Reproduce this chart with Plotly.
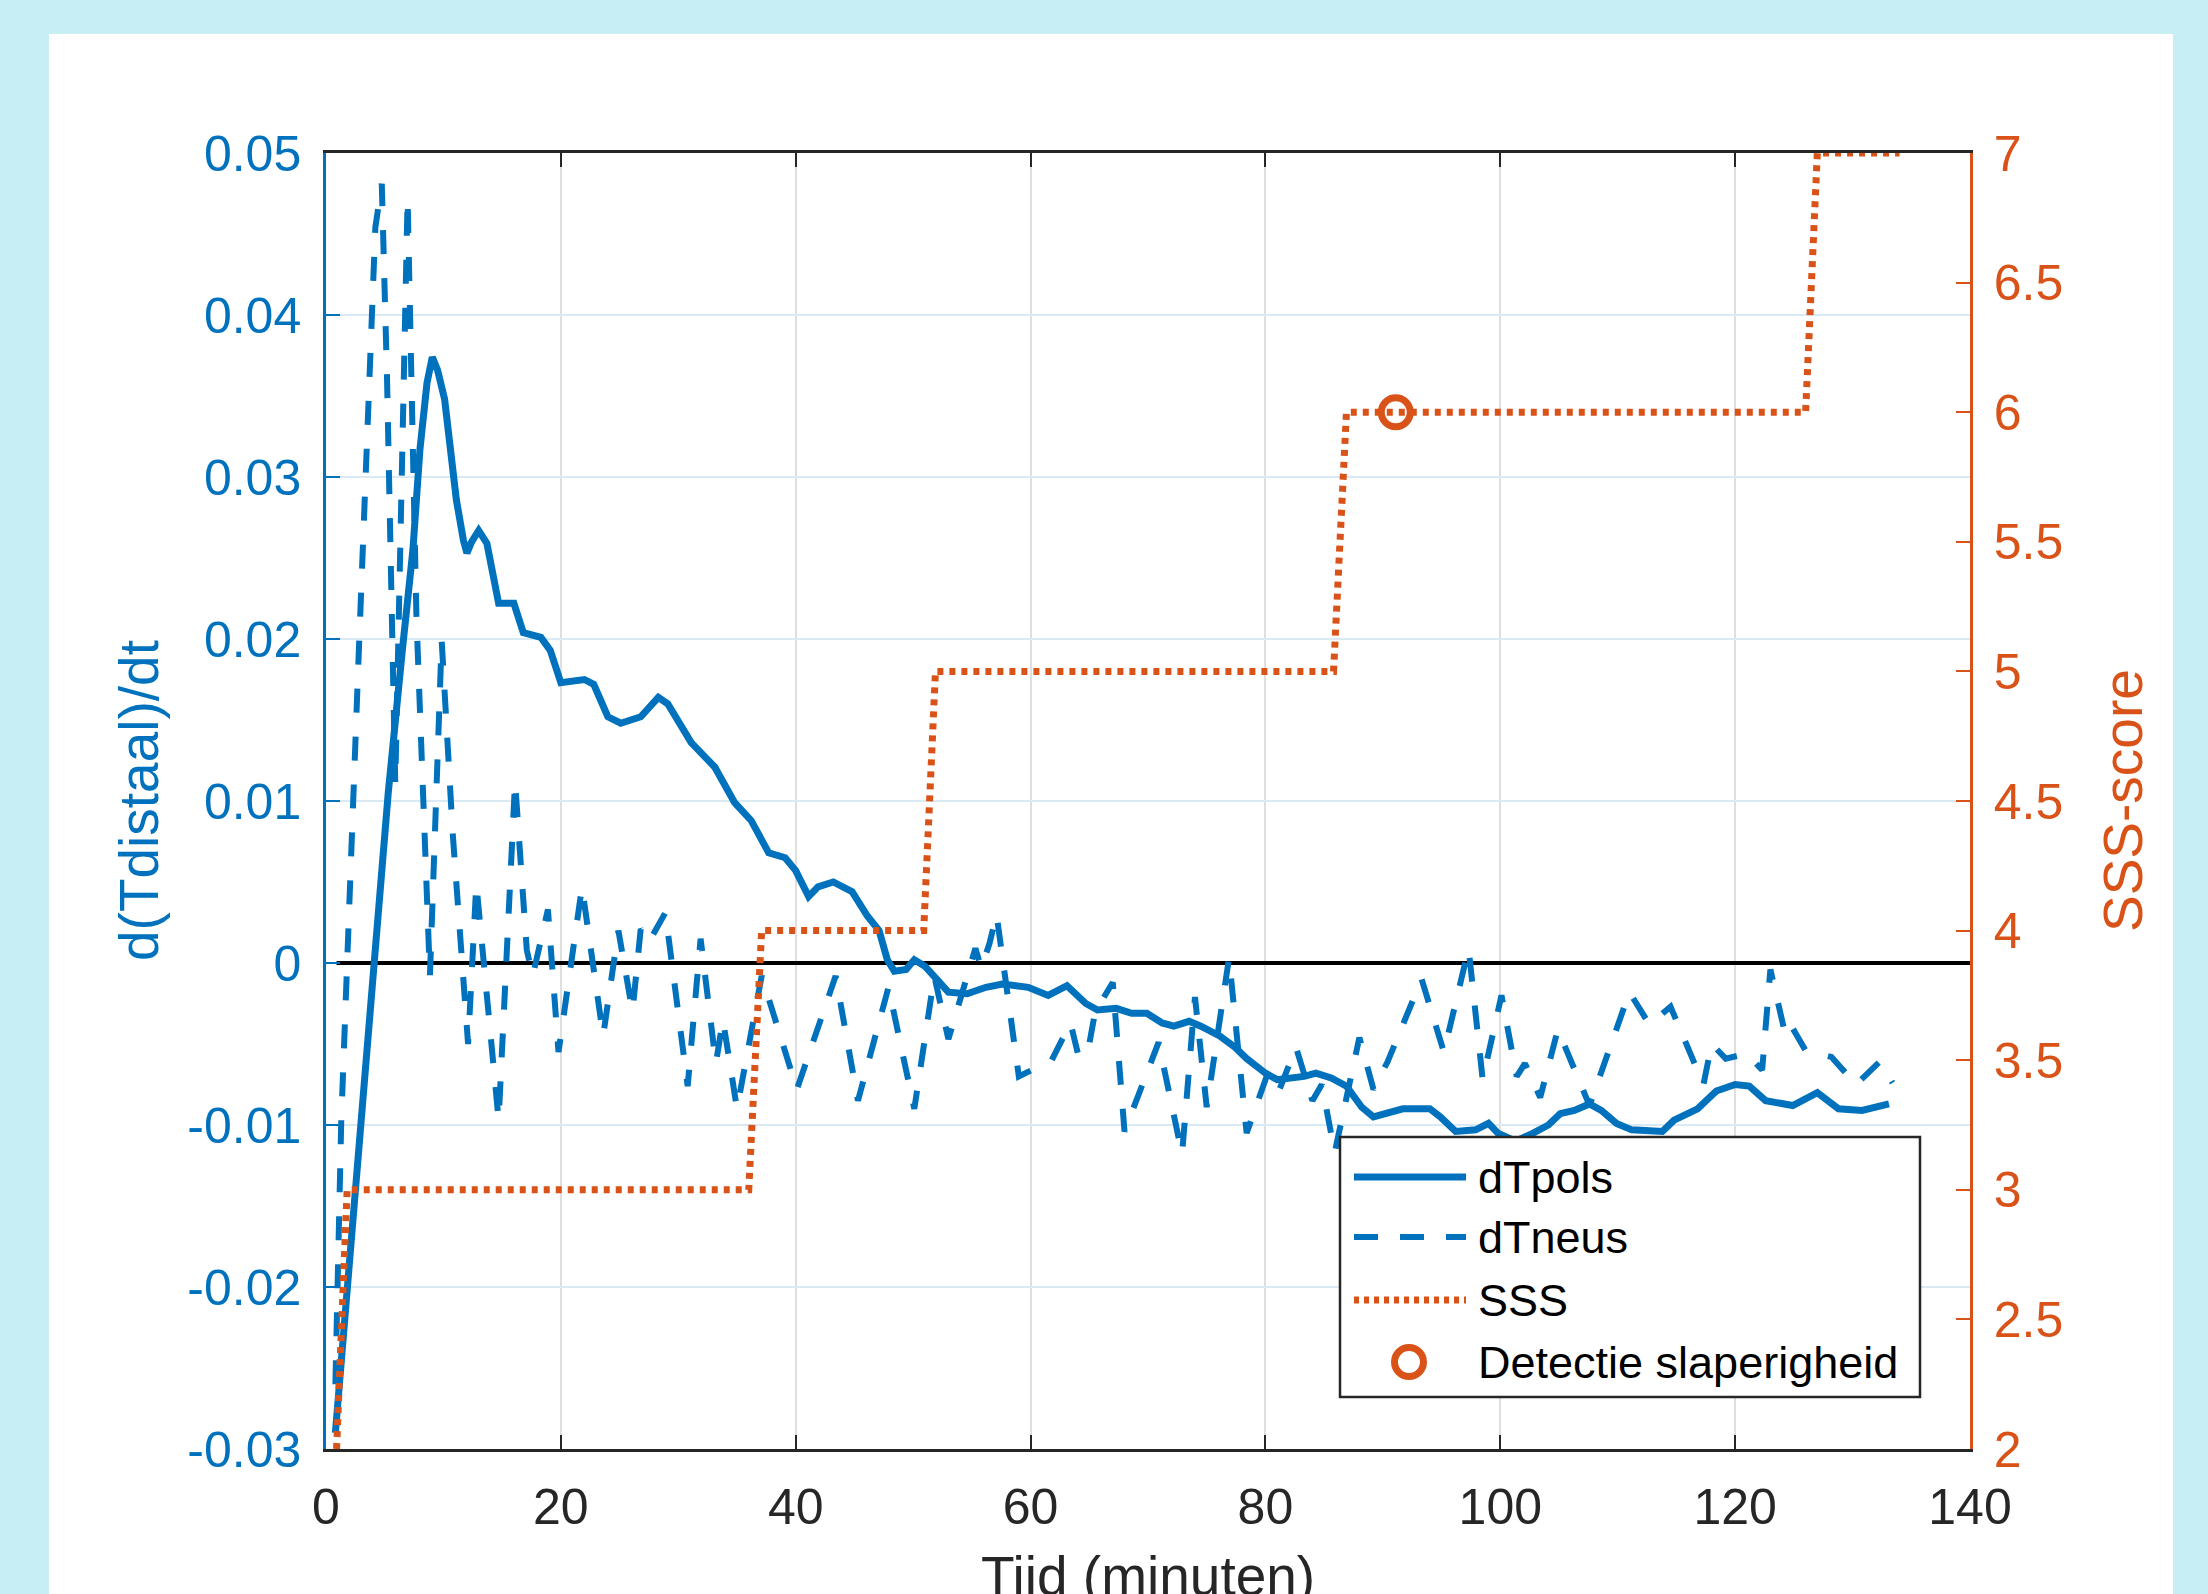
import plotly.graph_objects as go

# ---------------- data ----------------
time_pols = [0.8, 2.75, 4.05, 5.3, 6.5, 7.4, 8.0, 8.6, 9.05, 9.5, 10.1, 10.6, 11.1, 11.7, 12.0, 12.4,
             13.0, 13.7, 14.2, 14.7, 16.0, 16.8, 18.3, 19.1, 20.0, 22.0, 22.8, 24.0, 25.1, 26.8, 28.3,
             29.1, 31.1, 33.1, 34.8, 36.2, 37.7, 39.1, 40.0, 41.1, 41.9, 43.2, 44.8, 46.1, 47.1, 47.8,
             48.4, 49.4, 50.1, 51.0, 52.0, 53.0, 54.6, 56.2, 57.6, 59.8, 61.5, 63.1, 64.7, 65.7, 67.3,
             68.6, 69.9, 71.2, 72.2, 73.5, 74.5, 76.1, 77.4, 78.4, 80.0, 81.0, 83.3, 84.3, 85.6, 86.9,
             88.2, 89.2, 91.7, 94.0, 94.9, 96.2, 97.9, 99.0, 99.8, 101.3, 102.8, 104.1, 105.1, 106.3,
             107.6, 108.6, 109.9, 111.2, 113.8, 114.8, 116.8, 118.4, 120.0, 121.2, 122.6, 124.9, 127.0,
             128.8, 130.8, 133.1]
dT_pols = [-0.0290, -0.0115, 0.0000, 0.0105, 0.0193, 0.0255, 0.0317, 0.0358, 0.0374, 0.0366, 0.0348,
           0.0317, 0.0286, 0.0261, 0.0253, 0.0260, 0.0267, 0.0259, 0.0238, 0.0222, 0.0222, 0.0204,
           0.0201, 0.0193, 0.0173, 0.0175, 0.0172, 0.0152, 0.0148, 0.0152, 0.0164, 0.0160, 0.0136,
           0.0121, 0.0099, 0.0088, 0.0068, 0.0065, 0.0057, 0.0041, 0.0047, 0.0050, 0.0044, 0.0029,
           0.0020, 0.0002, -0.0005, -0.0004, 0.0002, -0.0002, -0.0010, -0.0018, -0.0019, -0.0015,
           -0.0013, -0.0015, -0.0020, -0.0014, -0.0025, -0.0029, -0.0028, -0.0031, -0.0031, -0.0037,
           -0.0039, -0.0036, -0.0039, -0.0045, -0.0052, -0.0059, -0.0068, -0.0072, -0.0070, -0.0068,
           -0.0071, -0.0076, -0.0089, -0.0095, -0.0090, -0.0090, -0.0095, -0.0104, -0.0103, -0.0099,
           -0.0105, -0.0110, -0.0105, -0.0100, -0.0093, -0.0091, -0.0087, -0.0091, -0.0099, -0.0103,
           -0.0104, -0.0097, -0.0090, -0.0079, -0.0075, -0.0076, -0.0085, -0.0088, -0.0080, -0.0090,
           -0.0091, -0.0087]

time_neus = [0.8, 1.3, 2.75, 4.2, 4.75, 5.2, 5.9, 6.4, 6.95, 7.7, 8.85, 9.85, 10.8, 12.1, 12.8, 14.7,
             16.1, 17.1, 17.6, 18.9, 19.8, 21.8, 23.6, 24.9, 26.1, 26.8, 27.5, 28.9, 30.8, 31.9, 33.2,
             33.8, 35.0, 37.1, 40.1, 43.4, 45.3, 47.9, 50.1, 51.8, 53.0, 55.3, 55.8, 56.5, 57.1, 59.0,
             60.5, 61.8, 63.4, 64.1, 64.9, 65.5, 67.0, 68.0, 70.9, 72.9, 74.0, 75.0, 76.9, 78.4, 80.2,
             81.2, 82.6, 84.0, 84.8, 85.9, 88.0, 89.2, 90.4, 93.3, 95.2, 97.3, 98.5, 100.1, 101.4,
             102.1, 103.4, 104.9, 107.6, 111.0, 112.7, 114.5, 117.3, 118.0, 119.2, 121.0, 122.3, 123.0,
             124.3, 124.8, 126.0, 128.2, 130.3, 132.3, 133.4]
dT_neus = [-0.0260, -0.0097, 0.0184, 0.0454, 0.0481, 0.0360, 0.0110, 0.0300, 0.0472, 0.0214, -0.0008,
           0.0199, 0.0079, -0.0050, 0.0049, -0.0097, 0.0112, 0.0008, -0.0008, 0.0033, -0.0055, 0.0047,
           -0.0045, 0.0020, -0.0030, 0.0021, 0.0013, 0.0031, -0.0076, 0.0015, -0.0062, -0.0035,
           -0.0090, -0.0008, -0.0078, -0.0008, -0.0085, -0.0015, -0.0090, -0.0008, -0.0047, 0.0009,
           -0.0003, 0.0012, 0.0030, -0.0070, -0.0065, -0.0060, -0.0037, -0.0058, -0.0054, -0.0030,
           -0.0012, -0.0104, -0.0049, -0.0118, -0.0021, -0.0089, 0.0003, -0.0105, -0.0068, -0.0078,
           -0.0052, -0.0085, -0.0075, -0.0117, -0.0046, -0.0078, -0.0061, -0.0010, -0.0055, 0.0009,
           -0.0072, -0.0020, -0.0070, -0.0062, -0.0083, -0.0041, -0.0088, -0.0018, -0.0038, -0.0027,
           -0.0075, -0.0050, -0.0059, -0.0056, -0.0066, -0.0004, -0.0045, -0.0039, -0.0054, -0.0058,
           -0.0075, -0.0061, -0.0074]

sss_time = [0.9, 1.8, 36.0, 37.1, 50.9, 51.9, 85.8, 86.9, 126.0, 127.0, 134.0]
sss_score = [2, 3, 3, 4, 4, 5, 5, 6, 6, 7, 7]

detect_time = [91.1]
detect_score = [6]

zero_time = [0.9, 140]
zero_value = [0, 0]

x_ticks = [0, 20, 40, 60, 80, 100, 120, 140]
y_ticks = [-0.03, -0.02, -0.01, 0, 0.01, 0.02, 0.03, 0.04, 0.05]
y_tick_labels = ["-0.03", "-0.02", "-0.01", "0", "0.01", "0.02", "0.03", "0.04", "0.05"]
sss_ticks = [2, 2.5, 3, 3.5, 4, 4.5, 5, 5.5, 6, 6.5, 7]
sss_tick_labels = ["2", "2.5", "3", "3.5", "4", "4.5", "5", "5.5", "6", "6.5", "7"]
legend_labels = ["dTpols", "dTneus", "SSS", "Detectie slaperigheid"]
x_title = "Tijd (minuten)"
y_title = "d(Tdistaal)/dt"
y2_title = "SSS-score"

# ---------------- style ----------------
BLUE = "#0072BD"
ORANGE = "#D95319"
DARK = "#262626"
FONT = "Liberation Sans, Arial, Helvetica, sans-serif"
W, H = 2208, 1594
L, R, T, B = 326, 1970, 153, 1449   # plot area in pixels
PW, PH = R - L, B - T

W_SOLID, W_DASH, W_DOT = 7, 6, 7


def px(xp):
    return (xp - L) / PW


def py(yp):
    return (B - yp) / PH


fig = go.Figure()

fig.add_trace(go.Scatter(x=zero_time, y=zero_value, mode="lines", showlegend=False,
                         line=dict(color="black", width=4), hoverinfo="skip"))
fig.add_trace(go.Scatter(x=time_pols, y=dT_pols, mode="lines", name=legend_labels[0],
                         line=dict(color=BLUE, width=W_SOLID)))
fig.add_trace(go.Scatter(x=time_neus, y=dT_neus, mode="lines", name=legend_labels[1],
                         line=dict(color=BLUE, width=W_DASH, dash="24px,24px")))
fig.add_trace(go.Scatter(x=sss_time, y=sss_score, mode="lines", name=legend_labels[2], yaxis="y2",
                         line=dict(color=ORANGE, width=W_DOT, dash="6px,6px")))
fig.add_trace(go.Scatter(x=detect_time, y=detect_score, mode="markers", name=legend_labels[3],
                         yaxis="y2",
                         marker=dict(symbol="circle-open", size=29, color=ORANGE,
                                     line=dict(width=7, color=ORANGE))))

shapes = [
    # white panel on the light-blue slide background
    dict(type="rect", xref="paper", yref="paper", layer="below",
         x0=px(49), x1=px(2173), y0=py(1600), y1=py(34),
         fillcolor="white", line=dict(width=0)),
    # legend box
    dict(type="rect", xref="paper", yref="paper", layer="above",
         x0=px(1340), x1=px(1920), y0=py(1397), y1=py(1137),
         fillcolor="white", line=dict(color=DARK, width=2.5)),
]
rows = [1177, 1237, 1300, 1362]
sx0, sx1 = px(1354), px(1466)
shapes.append(dict(type="line", xref="paper", yref="paper", layer="above",
                   x0=sx0, x1=sx1, y0=py(rows[0]), y1=py(rows[0]),
                   line=dict(color=BLUE, width=W_SOLID)))
shapes.append(dict(type="line", xref="paper", yref="paper", layer="above",
                   x0=sx0, x1=sx1, y0=py(rows[1]), y1=py(rows[1]),
                   line=dict(color=BLUE, width=W_DASH, dash="24px,22px")))
shapes.append(dict(type="line", xref="paper", yref="paper", layer="above",
                   x0=sx0, x1=sx1, y0=py(rows[2]), y1=py(rows[2]),
                   line=dict(color=ORANGE, width=W_DOT, dash="5px,5px")))
cr = 14.5
shapes.append(dict(type="circle", xref="paper", yref="paper", layer="above",
                   x0=px(1409 - cr), x1=px(1409 + cr), y0=py(rows[3] + cr), y1=py(rows[3] - cr),
                   line=dict(color=ORANGE, width=7)))

annotations = []
for lab, r in zip(legend_labels, rows):
    annotations.append(dict(xref="paper", yref="paper", x=px(1476), y=py(r), text=lab,
                            showarrow=False, xanchor="left", yanchor="middle",
                            font=dict(family=FONT, size=45, color="black")))

# axis titles
annotations.append(dict(xref="paper", yref="paper", x=0.5, y=py(1576), text=x_title,
                        showarrow=False, xanchor="center", yanchor="middle",
                        font=dict(family=FONT, size=55, color=DARK)))
annotations.append(dict(xref="paper", yref="paper", x=px(139), y=0.5, text=y_title,
                        showarrow=False, xanchor="center", yanchor="middle", textangle=-90,
                        font=dict(family=FONT, size=55, color=BLUE)))
annotations.append(dict(xref="paper", yref="paper", x=px(2123), y=0.5, text=y2_title,
                        showarrow=False, xanchor="center", yanchor="middle", textangle=-90,
                        font=dict(family=FONT, size=55, color=ORANGE)))

fig.update_layout(
    width=W, height=H,
    margin=dict(l=L, r=W - R, t=T, b=H - B, pad=0),
    paper_bgcolor="#C7EDF5",
    plot_bgcolor="white",
    showlegend=False,
    font=dict(family=FONT, size=50, color=DARK),
    shapes=shapes,
    annotations=annotations,
    xaxis=dict(
        range=[0, 140], tickvals=x_ticks, ticks="inside", ticklen=14, tickwidth=2,
        tickcolor=DARK, linecolor=DARK, linewidth=2.5, mirror="ticks", showline=True,
        showgrid=True, gridcolor="#DFDFDF", gridwidth=2, zeroline=False,
        tickfont=dict(family=FONT, size=50, color=DARK), ticklabelstandoff=12,
        automargin=False,
    ),
    yaxis=dict(
        range=[-0.03, 0.05], tickvals=y_ticks, ticktext=y_tick_labels, ticks="inside",
        ticklen=14, tickwidth=2, tickcolor=BLUE, linecolor=BLUE, linewidth=2.5, showline=True,
        showgrid=True, gridcolor="#D9EAF5", gridwidth=2, zeroline=False,
        tickfont=dict(family=FONT, size=50, color=BLUE), ticklabelstandoff=12,
        automargin=False,
    ),
    yaxis2=dict(
        overlaying="y", side="right", anchor="x",
        range=[2, 7], tickvals=sss_ticks, ticktext=sss_tick_labels, ticks="inside",
        ticklen=14, tickwidth=2, tickcolor=ORANGE, linecolor=ORANGE, linewidth=2.5, showline=True,
        showgrid=False, zeroline=False,
        tickfont=dict(family=FONT, size=50, color=ORANGE), ticklabelstandoff=11,
        automargin=False,
    ),
)

fig.write_html(
    "out.html",
    config={"displayModeBar": False},
    post_script="document.body.style.margin='0px';document.body.style.overflow='hidden';",
)
